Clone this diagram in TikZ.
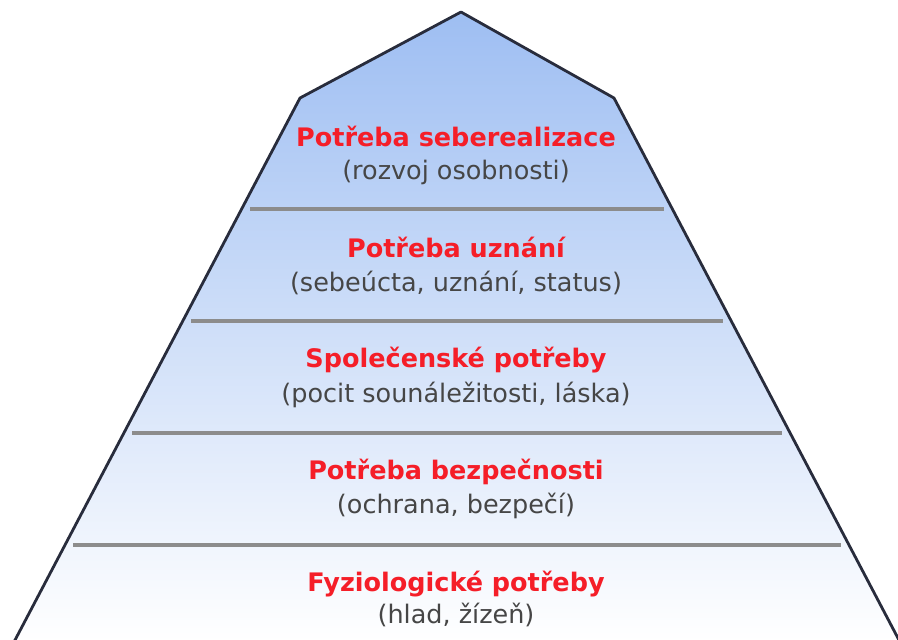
\documentclass[tikz,border=0pt]{standalone}
\usepackage{fontspec}
\setmainfont{DejaVu Sans}
\usetikzlibrary{positioning}

\definecolor{needred}{RGB}{245,30,40}
\definecolor{notegray}{RGB}{70,70,70}
\definecolor{edgeblue}{RGB}{40,44,60}
\definecolor{skyblue}{RGB}{158,190,242}
\definecolor{paleblue}{RGB}{224,233,251}

\begin{document}
\begin{tikzpicture}[
  x=1pt, y=-1pt,
  need/.style={
    font=\fontsize{25.5}{30}\selectfont\bfseries,
    text=needred, inner sep=0pt, anchor=base
  },
  note/.style={
    font=\fontsize{25.5}{30}\selectfont,
    text=notegray, inner sep=0pt, anchor=base
  },
  hull/.style={
    draw=edgeblue, line width=2.8pt, line join=round,
    top color=skyblue, middle color=paleblue, bottom color=white
  },
  tierline/.style={draw=black!45, line width=3.4pt}
]
\useasboundingbox (0,0) rectangle (898,640);

%% ── Pyramid outline ─────────────────────────────────────────────────
\coordinate (apex) at (461,12);
\coordinate (lsh)  at (300,98);
\coordinate (rsh)  at (614,98);
\coordinate (lbot) at (14,642);
\coordinate (rbot) at (900,642);
\path[hull] (lbot) -- (lsh) -- (apex) -- (rsh) -- (rbot);

%% ── Tier separators (inset a little from the sides) ─────────────────
\foreach \y in {209,321,433,545} {
  \pgfmathsetmacro\dx{0.5277*(\y-98)-9}
  \draw[tierline] (300-\dx,\y) -- (614+\dx,\y);
}

%% ── Tier texts, top to bottom (base lines) ──────────────────────────
\node[need] (self)    at (456,146) {Potřeba seberealizace};
\node[note] (selfn)   at (456,179) {(rozvoj osobnosti)};

\node[need] (esteem)  at (456,257) {Potřeba uznání};
\node[note] (esteemn) at (456,291) {(sebeúcta, uznání, status)};

\node[need] (social)  at (456,367) {Společenské potřeby};
\node[note] (socialn) at (456,402) {(pocit sounáležitosti, láska)};

\node[need] (safe)    at (456,479) {Potřeba bezpečnosti};
\node[note] (safen)   at (456,513) {(ochrana, bezpečí)};

\node[need] (body)    at (456,591) {Fyziologické potřeby};
\node[note] (bodyn)   at (456,623) {(hlad, žízeň)};

\end{tikzpicture}
\end{document}
